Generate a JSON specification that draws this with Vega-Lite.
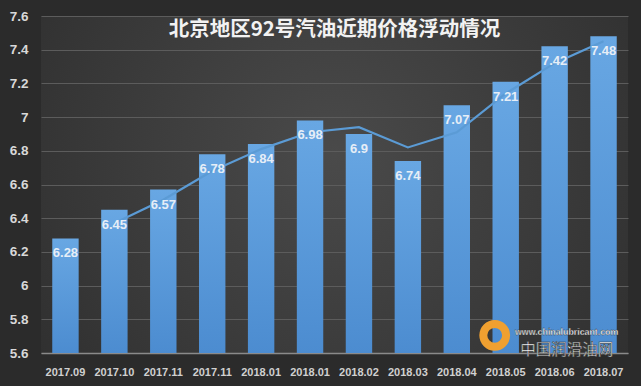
{
  "$schema": "https://vega.github.io/schema/vega-lite/v6.json",
  "autosize": "none",
  "width": 587,
  "height": 337,
  "padding": {"left": 41, "top": 16, "right": 13, "bottom": 33},
  "background": "#2b2b2b",
  "config": {
    "view": {
      "stroke": null,
      "fill": {
        "gradient": "radial",
        "x1": 0.5, "y1": 0.45, "r1": 0,
        "x2": 0.5, "y2": 0.45, "r2": 0.75,
        "stops": [
          {"offset": 0, "color": "#4a4a4a"},
          {"offset": 1, "color": "#2a2a2a"}
        ]
      }
    },
    "axisY": {
      "title": null,
      "values": [5.6, 5.8, 6, 6.2, 6.4, 6.6, 6.8, 7, 7.2, 7.4, 7.6],
      "format": "~g",
      "labelOverlap": false,
      "labelFont": "Liberation Sans",
      "labelFontSize": 13.5,
      "labelFontWeight": "bold",
      "labelColor": "#d8d8d8",
      "labelPadding": 13,
      "ticks": false,
      "domain": false,
      "gridColor": "#5c5c5c",
      "gridWidth": 1
    },
    "font": "Liberation Sans"
  },
  "title": {
    "text": "北京地区92号汽油近期价格浮动情况",
    "font": "Noto Sans CJK SC",
    "fontSize": 20.5,
    "fontWeight": "bold",
    "color": "#f2f2f2",
    "anchor": "middle",
    "offset": -31
  },
  "data": {
    "values": [
      {"month": "2017.09", "price": 6.28, "avg": null},
      {"month": "2017.10", "price": 6.45, "avg": 6.37},
      {"month": "2017.11", "price": 6.57, "avg": 6.51},
      {"month": "2017.11 ", "price": 6.78, "avg": 6.68},
      {"month": "2018.01", "price": 6.84, "avg": 6.81},
      {"month": "2018.01 ", "price": 6.98, "avg": 6.91},
      {"month": "2018.02", "price": 6.9, "avg": 6.94},
      {"month": "2018.03", "price": 6.74, "avg": 6.82},
      {"month": "2018.04", "price": 7.07, "avg": 6.91},
      {"month": "2018.05", "price": 7.21, "avg": 7.14},
      {"month": "2018.06", "price": 7.42, "avg": 7.32},
      {"month": "2018.07", "price": 7.48, "avg": 7.45}
    ]
  },
  "encoding": {
    "x": {
      "field": "month",
      "type": "ordinal",
      "sort": null,
      "scale": {"paddingInner": 0.46, "paddingOuter": 0.23},
      "axis": {
        "title": null,
        "labelAngle": 0,
        "labelFont": "Liberation Sans",
        "labelFontSize": 11,
        "labelFontWeight": "bold",
        "labelColor": "#d0d0d0",
        "labelPadding": 13,
        "labelOverlap": false,
        "ticks": false,
        "domainColor": "#8a8a8a",
        "domainWidth": 1.5
      }
    }
  },
  "layer": [
    {
      "mark": {
        "type": "bar",
        "color": {
          "gradient": "linear",
          "x1": 0, "y1": 0, "x2": 0, "y2": 1,
          "stops": [
            {"offset": 0, "color": "#68a7e3"},
            {"offset": 1, "color": "#4c8cd0"}
          ]
        }
      },
      "encoding": {
        "y": {
          "field": "price",
          "type": "quantitative",
          "title": null,
          "scale": {"domain": [5.6, 7.6], "zero": false, "nice": false}
        },
        "y2": {"datum": 5.6}
      }
    },
    {
      "mark": {"type": "line", "color": "#5b9bd5", "strokeWidth": 2.2},
      "encoding": {
        "y": {"field": "avg", "type": "quantitative", "title": null}
      }
    },
    {
      "mark": {
        "type": "text",
        "baseline": "middle",
        "dy": 15,
        "font": "Liberation Sans",
        "fontSize": 13,
        "fontWeight": "bold",
        "color": "#e6eef7"
      },
      "encoding": {
        "y": {"field": "price", "type": "quantitative", "title": null},
        "text": {"field": "price", "type": "quantitative"}
      }
    },
    {
      "data": {"values": [{"month": "2018.05", "v": 5.705}]},
      "mark": {"type": "point", "shape": "circle", "filled": false, "size": 520, "stroke": "#f0a030", "strokeWidth": 8, "xOffset": -11, "opacity": 1},
      "encoding": {
        "y": {"field": "v", "type": "quantitative", "title": null}
      }
    },
    {
      "data": {"values": [{"month": "2018.06", "v": 5.725, "t": "www.chinalubricant.com"}]},
      "mark": {"type": "text", "font": "Liberation Sans", "fontSize": 8.8, "fontWeight": "bold", "color": "#ffffff", "dx": 12, "baseline": "middle", "stroke": "#333333", "strokeWidth": 0.3},
      "encoding": {
        "y": {"field": "v", "type": "quantitative", "title": null},
        "text": {"field": "t"}
      }
    },
    {
      "data": {"values": [{"month": "2018.06", "v": 5.57, "t": "中国润滑油网"}]},
      "mark": {"type": "text", "font": "Noto Sans CJK SC", "fontSize": 15.5, "color": "#ffffff", "dx": 12, "baseline": "bottom", "stroke": "#333333", "strokeWidth": 0.5},
      "encoding": {
        "y": {"field": "v", "type": "quantitative", "title": null},
        "text": {"field": "t"}
      }
    }
  ]
}
